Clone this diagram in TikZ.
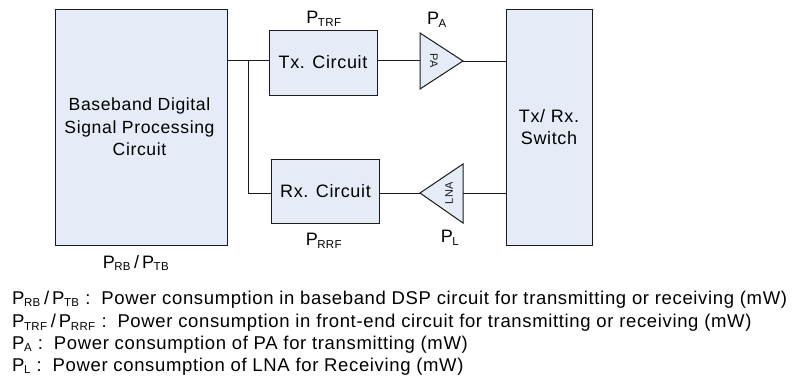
\documentclass[tikz,border=0pt]{standalone}
\usepackage{fontspec}
\setmainfont[LetterSpace=3.5]{Liberation Sans}
\definecolor{boxfill}{HTML}{E6ECF7}
\definecolor{ink}{HTML}{1A1A1A}
\newcommand{\Pw}[1]{P\textsubscript{\kern-0.5pt#1}}
\makeatletter
\renewcommand{\@textsubscript}[1]{{\m@th\ensuremath{_{\mbox{\fontsize{11.5}{11.5}\selectfont#1}}}}}
\makeatother
\tikzset{x=1pt,y=-1pt,
  blockbox/.style={draw=ink,fill=boxfill,line width=1pt,inner sep=0pt,align=center,font=\fontsize{18}{22.3}\selectfont},
  wire/.style={draw=ink,line width=1pt},
  amp/.style={draw=ink,fill=boxfill,line width=1pt,line join=miter},
  amplabel/.style={inner sep=0pt,font=\fontsize{11}{11}\selectfont,text=ink},
  plabel/.style={inner sep=0pt,font=\fontsize{18}{18}\selectfont,text=black},
  legend/.style={inner sep=0pt,anchor=base west,font=\fontsize{18.5}{18.5}\selectfont,text=black}}
\begin{document}
\begin{tikzpicture}
\useasboundingbox (0,0) rectangle (793,378);
\node[blockbox,minimum width=172pt,minimum height=236pt] (bb) at (141,127) {};
\node[inner sep=0pt,align=center,font=\fontsize{17.6}{22.3}\selectfont] (bbtext) at (139.5,127) {Baseband Digital\\Signal Processing\\Circuit};
\node[blockbox,minimum width=108pt,minimum height=65pt] (tx) at (323,62.5) {Tx. Circuit};
\node[blockbox,minimum width=108pt,minimum height=64pt] (rx) at (325.5,191) {Rx. Circuit};
\node[blockbox,minimum width=86pt,minimum height=236pt] (sw) at (549,127) {Tx/ Rx.\\Switch};
\coordinate (paBase) at (420,60.5);
\coordinate (paTip) at (463,61);
\coordinate (lnaBase) at (463,193);
\coordinate (lnaTip) at (420,193);
\coordinate (jt) at (248,60.5);
\coordinate (jb) at (248,193);
\filldraw[amp] (420,33) -- (paTip) -- (420,89) -- cycle;
\filldraw[amp] (463,164) -- (lnaTip) -- (463,223) -- cycle;
\node[amplabel,rotate=-90] (palabel) at (434,61) {PA};
\node[amplabel,rotate=90] (lnalabel) at (449,193) {LNA};
\draw[wire] (227,60.5) -- (jt) -- (269,60.5);
\draw[wire] (jt) -- (jb) -- (271.5,193);
\draw[wire] (377,60.5) -- (paBase);
\draw[wire] (paTip) -- (506,61);
\draw[wire] (379,193) -- (lnaTip);
\draw[wire] (lnaBase) -- (506,193);
\node[plabel] (ptrf) at (324,19) {\Pw{TRF}};
\node[plabel] (pa) at (437,20) {\Pw{A}};
\node[plabel] (prrf) at (324,241) {\Pw{RRF}};
\node[plabel] (pl) at (450,238) {\Pw{L}};
\node[plabel] (pbb) at (136,263) {\Pw{RB}\,/\,\Pw{TB}};
\node[legend] (l1) at (12,304) {\Pw{RB}\,/\,\Pw{TB} :\, Power consumption in baseband DSP circuit for transmitting or receiving (mW)};
\node[legend] (l2) at (12,327.5) {\Pw{TRF}\,/\,\Pw{RRF} :\, Power consumption in front-end circuit for transmitting or receiving (mW)};
\node[legend] (l3) at (12,349) {\Pw{A} :\, Power consumption of PA for transmitting (mW)};
\node[legend] (l4) at (12,371) {\Pw{L} :\, Power consumption of LNA for Receiving (mW)};
\end{tikzpicture}
\end{document}
